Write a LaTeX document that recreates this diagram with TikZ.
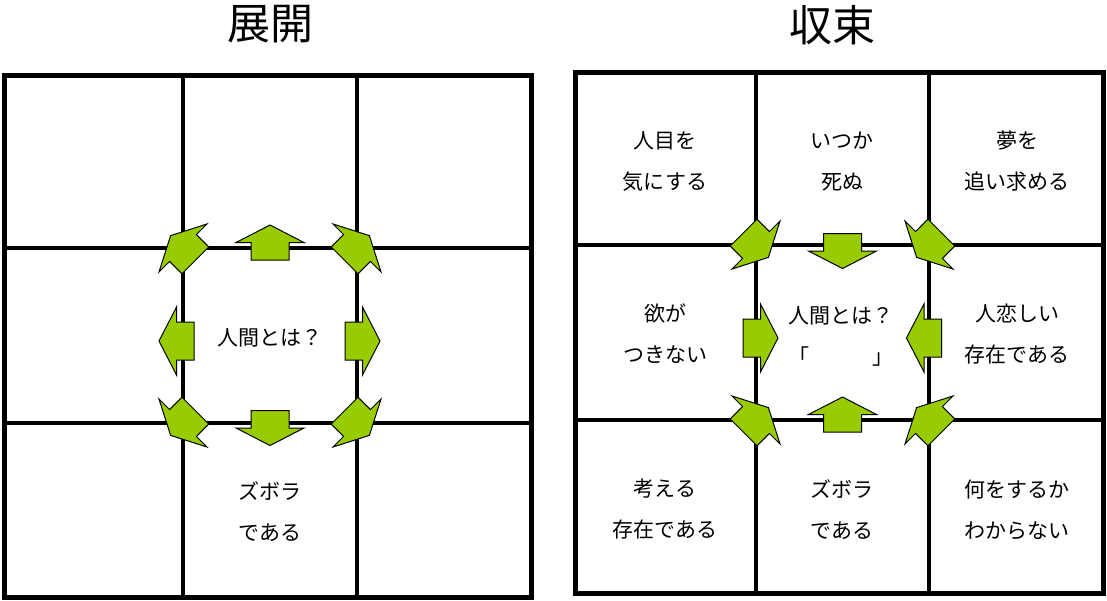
\documentclass[tikz,border=0pt]{standalone}
\usepackage{fontspec}
\usepackage{tikz}
\usetikzlibrary{positioning}
\newfontfamily\jpfont{Noto Sans CJK JP}
\definecolor{arrowgreen}{RGB}{153,204,0}

\begin{document}
\begin{tikzpicture}[
    x=0.5pt, y=-0.5pt,
    cell/.style={font=\jpfont\fontsize{10.5}{20.5}\selectfont, align=center, inner sep=0pt},
    title/.style={font=\jpfont\fontsize{21.5}{24}\selectfont, inner sep=0pt},
    border/.style={line width=2.5pt},
    gridline/.style={line width=2pt},
    blockarrow/.pic={\draw[fill=arrowgreen, line width=0.5pt, line join=miter]
        (-17.5,-19) -- (0,-19) -- (0,-34) -- (17.5,0) -- (0,34) -- (0,19) -- (-17.5,19) -- cycle;}
]
    \useasboundingbox (0,0) rectangle (1107,600);

    % Titles
    \node[title] (tExpand) at (270,24) {展開};
    \node[title] (tConverge) at (832,25) {収束};

    % Left grid
    \draw[border] (4,75) rectangle (531,597);
    \foreach \x in {183,357} \draw[gridline] (\x,75) -- (\x,597);
    \foreach \y in {248,423} \draw[gridline] (4,\y) -- (531,\y);

    % Right grid
    \draw[border] (575,72) rectangle (1103,593);
    \foreach \x in {756,929} \draw[gridline] (\x,72) -- (\x,593);
    \foreach \y in {245,420} \draw[gridline] (575,\y) -- (1103,\y);

    % Left texts
    \node[cell] (lCenter) at (270,338) {人間とは？};
    \node[cell] (lBottom) at (270,512) {ズボラ\\である};

    % Right texts
    \node[cell] (rTopLeft) at (665,161.5) {人目を\\気にする};
    \node[cell] (rTop) at (842,161.5) {いつか\\死ぬ};
    \node[cell] (rTopRight) at (1017,161.5) {夢を\\追い求める};
    \node[cell] (rLeft) at (665,334) {欲が\\つきない};
    \node[cell] (rCenter) at (841,336.5) {人間とは？\\「　　　」};
    \node[cell] (rRight) at (1017,334) {人恋しい\\存在である};
    \node[cell] (rBottomLeft) at (665,509.5) {考える\\存在である};
    \node[cell] (rBottom) at (842,509.5) {ズボラ\\である};
    \node[cell] (rBottomRight) at (1017,509.5) {何をするか\\わからない};

    % Left arrows (outward)
    \pic[rotate=90] at (270,242.5) {blockarrow};
    \pic[rotate=270] at (270,428) {blockarrow};
    \pic[rotate=180] at (176.5,341) {blockarrow};
    \pic[rotate=0] at (362.5,341) {blockarrow};
    \pic[rotate=135] at (183,248) {blockarrow};
    \pic[rotate=45] at (357,248) {blockarrow};
    \pic[rotate=225] at (183,423) {blockarrow};
    \pic[rotate=315] at (357,423) {blockarrow};

    % Right arrows (inward)
    \pic[rotate=270] at (842.5,251) {blockarrow};
    \pic[rotate=90] at (842.5,414.5) {blockarrow};
    \pic[rotate=0] at (760.5,338) {blockarrow};
    \pic[rotate=180] at (924,338) {blockarrow};
    \pic[rotate=315] at (756,245) {blockarrow};
    \pic[rotate=225] at (929,245) {blockarrow};
    \pic[rotate=45] at (756,420) {blockarrow};
    \pic[rotate=135] at (929,420) {blockarrow};
\end{tikzpicture}
\end{document}
